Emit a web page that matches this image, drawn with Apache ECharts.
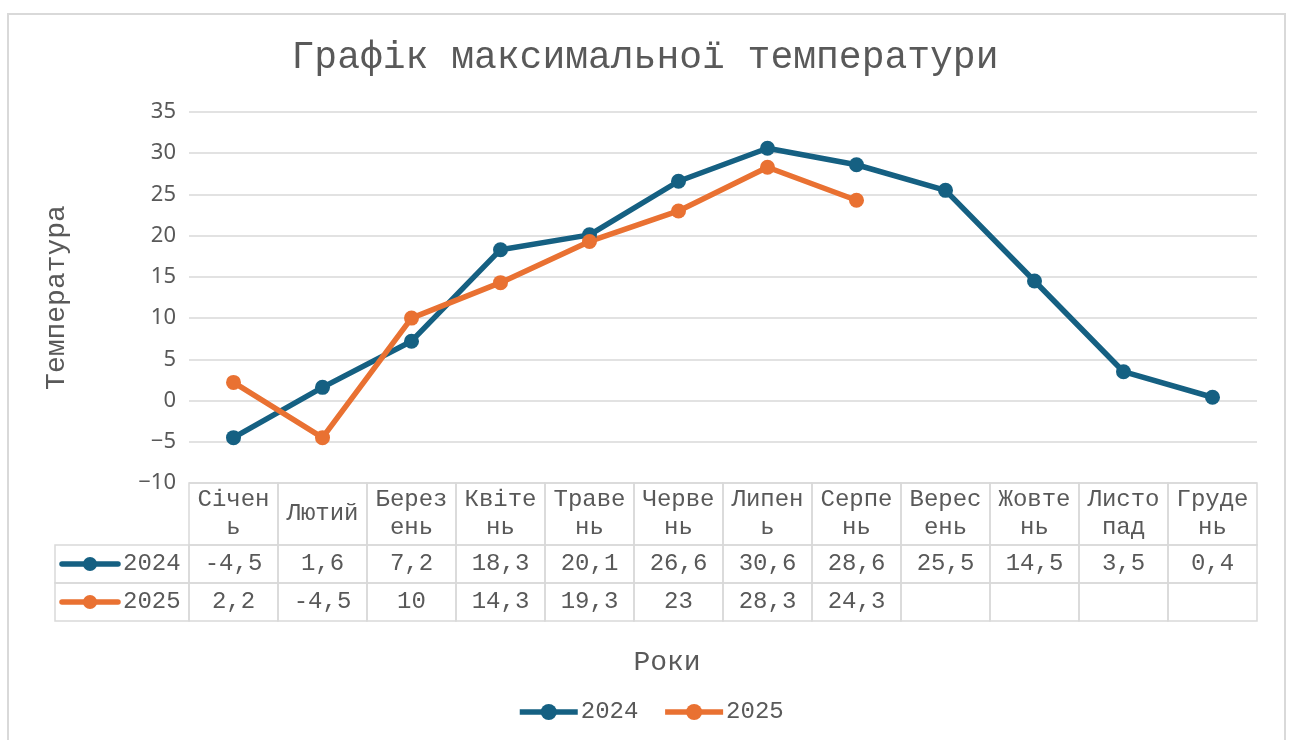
<!DOCTYPE html>
<html>
<head>
    <meta charset="utf-8">
    <title>Графік максимальної температури</title>
    <style>
        html, body { margin: 0; padding: 0; background: #fff; }
        #chart { width: 1290px; height: 740px; }
    </style>
</head>
<body>
<!-- контейнер графіка -->
<div id="chart"></div>
<script src="https://cdn.jsdelivr.net/npm/echarts@6/dist/echarts.min.js"></script>
<script type="text/javascript">
    // дані
    var months = ['Січень', 'Лютий', 'Березень', 'Квітень', 'Травень', 'Червень',
                  'Липень', 'Серпень', 'Вересень', 'Жовтень', 'Листопад', 'Грудень'];
    var years = ['2024', '2025'];
    var temp2024 = [-4.5, 1.6, 7.2, 18.3, 20.1, 26.6, 30.6, 28.6, 25.5, 14.5, 3.5, 0.4];
    var temp2025 = [2.2, -4.5, 10, 14.3, 19.3, 23, 28.3, 24.3, null, null, null, null];
    var yMin = -10, yMax = 35, yStep = 5;

    var colors = ['#156082', '#E97132'];
    var textColor = '#595959';
    var lineGray = '#d9d9d9';
    var mono = '"Liberation Mono", "Courier New", monospace';

    var rows = [temp2024, temp2025];

    // назва місяця ламається по 5 символів, як у таблиці Excel
    function wrapName(s) {
        var parts = [];
        for (var i = 0; i < s.length; i += 5) parts.push(s.slice(i, i + 5));
        return parts.join('\n');
    }
    function fmt(v) {
        return v == null ? '' : String(v).replace('.', ',');
    }

    var headH = 62, rowH = 38, labelW = 134;

    function renderTable(params, api) {
        var i = api.value(0);
        var c = api.coord([i, yMin]);
        var w = api.size([1, 0])[0];
        var x0 = c[0] - w / 2, top = c[1];
        var kids = [];
        var border = { fill: 'none', stroke: lineGray, lineWidth: 1.5 };
        var txt = { fill: textColor, font: '24px ' + mono, align: 'center', verticalAlign: 'middle' };

        // шапка
        kids.push({ type: 'rect', shape: { x: x0, y: top, width: w, height: headH }, style: border });
        kids.push({ type: 'text', style: Object.assign({ x: c[0], y: top + headH / 2, text: wrapName(months[i]), lineHeight: 28 }, txt) });

        for (var r = 0; r < rows.length; r++) {
            var y = top + headH + r * rowH;
            kids.push({ type: 'rect', shape: { x: x0, y: y, width: w, height: rowH }, style: border });
            kids.push({ type: 'text', style: Object.assign({ x: c[0], y: y + rowH / 2, text: fmt(rows[r][i]) }, txt) });

            // ліва колонка з позначками рядів
            if (i === 0) {
                var lx = x0 - labelW, cy = y + rowH / 2;
                kids.push({ type: 'rect', shape: { x: lx, y: y, width: labelW, height: rowH }, style: border });
                kids.push({ type: 'line', shape: { x1: lx + 7, y1: cy, x2: lx + 63, y2: cy },
                    style: { stroke: colors[r], lineWidth: 5.5, lineCap: 'round' } });
                kids.push({ type: 'circle', shape: { cx: lx + 35, cy: cy, r: 7 }, style: { fill: colors[r] } });
                kids.push({ type: 'text', style: { x: lx + 68, y: cy, text: years[r], fill: textColor,
                    font: '24px ' + mono, align: 'left', verticalAlign: 'middle' } });
            }
        }
        return { type: 'group', children: kids };
    }

    var myChart = echarts.init(document.getElementById('chart'));
    myChart.setOption({
        backgroundColor: '#fff',
        animation: false,
        title: {
            text: 'Графік максимальної температури',
            left: 'center',
            top: 34,
            textStyle: { fontFamily: mono, fontSize: 38, fontWeight: 'normal', color: textColor }
        },
        legend: {
            data: years,
            bottom: 11,
            left: 512,
            itemWidth: 58,
            itemHeight: 20,
            itemGap: 24,
            lineStyle: { width: 5.5 },
            textStyle: { fontFamily: mono, fontSize: 24, color: textColor, padding: [0, 0, 0, -2] }
        },
        graphic: [{
            type: 'rect',
            shape: { x: 8, y: 14, width: 1277, height: 740 },
            style: { fill: 'none', stroke: lineGray, lineWidth: 2 },
            silent: true
        }],
        grid: {
            left: 189, right: 33, top: 112, bottom: 257,
            containLabel: false,
            outerBoundsMode: 'none'
        },
        xAxis: {
            type: 'category',
            data: months,
            boundaryGap: true,
            axisLine: { show: false },
            axisTick: { show: false },
            axisLabel: { show: false },
            name: 'Роки',
            nameLocation: 'middle',
            nameGap: 166,
            nameTextStyle: { fontFamily: mono, fontSize: 28, color: textColor, padding: [0, 112, 0, 0] }
        },
        yAxis: {
            type: 'value',
            min: yMin, max: yMax, interval: yStep,
            axisLine: { show: false },
            axisTick: { show: false },
            axisLabel: { color: textColor, fontSize: 22, fontFamily: '"Noto Sans", sans-serif', margin: 13,
                formatter: function (v) { return String(v).replace('-', '−'); } },
            splitLine: { lineStyle: { color: lineGray, width: 1.5 } },
            name: 'Температура',
            nameLocation: 'middle',
            nameGap: 118,
            nameRotate: 90,
            nameTextStyle: { fontFamily: mono, fontSize: 28, color: textColor }
        },
        series: [
            {
                name: '2024', type: 'line', data: temp2024,
                symbol: 'circle', symbolSize: 15,
                lineStyle: { color: colors[0], width: 5.5 },
                itemStyle: { color: colors[0] }
            },
            {
                name: '2025', type: 'line', data: temp2025,
                symbol: 'circle', symbolSize: 15,
                lineStyle: { color: colors[1], width: 5.5 },
                itemStyle: { color: colors[1] }
            },
            {
                // таблиця даних під графіком
                type: 'custom',
                silent: true,
                clip: false,
                renderItem: renderTable,
                data: months.map(function (m, i) { return [i, yMin]; }),
                z: 1
            }
        ]
    });
</script>
</body>
</html>
